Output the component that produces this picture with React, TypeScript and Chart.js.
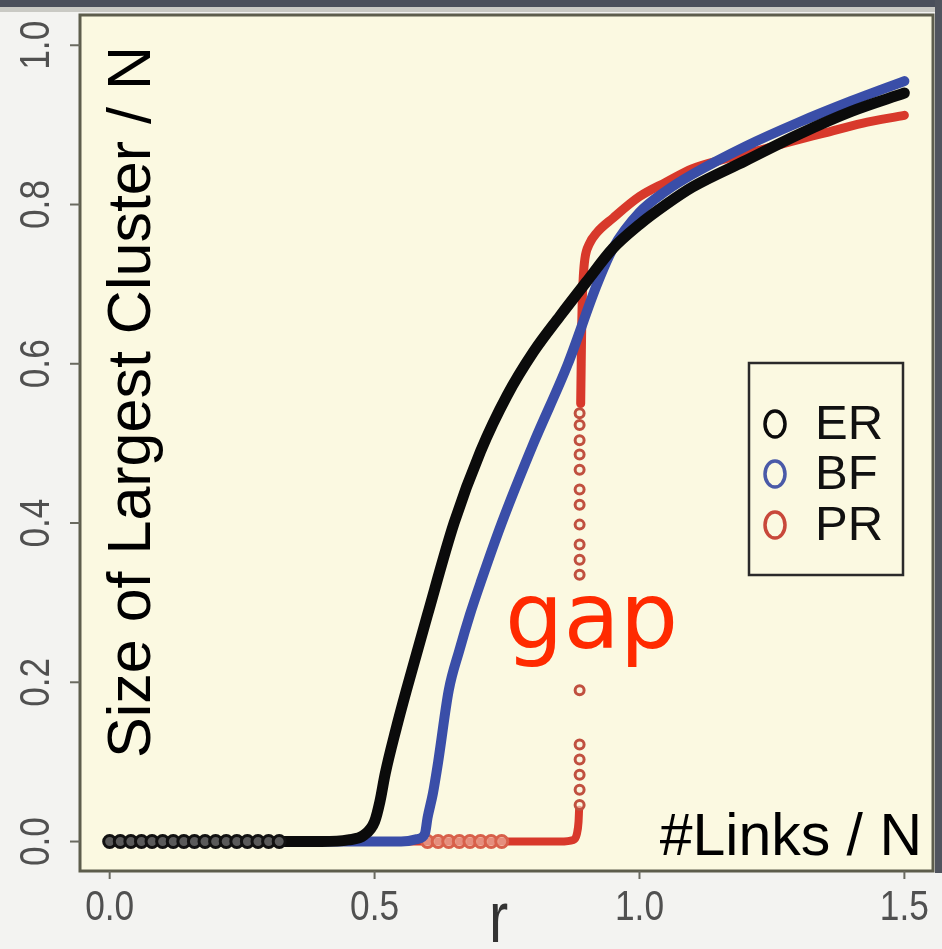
import React, { useEffect, useRef } from "react";
import { Chart, registerables } from "chart.js";
Chart.register(...registerables);

// ---- data ----
const xTicks = [0, 0.5, 1.0, 1.5];
const xTickLabels = ["0.0", "0.5", "1.0", "1.5"];
const yTicks = [0, 0.2, 0.4, 0.6, 0.8, 1.0];
const yTickLabels = ["0.0", "0.2", "0.4", "0.6", "0.8", "1.0"];
const seriesNames = ["ER", "BF", "PR"];

// ER (black)
const erSparseX = [0.0, 0.02, 0.04, 0.06, 0.08, 0.1, 0.12, 0.14, 0.16, 0.18, 0.2, 0.22, 0.24, 0.26, 0.28, 0.3, 0.32];
const erSparseY = [0, 0, 0, 0, 0, 0, 0, 0, 0, 0, 0, 0, 0, 0, 0, 0, 0];
const erX = [0.33, 0.4, 0.45, 0.48, 0.5, 0.51, 0.52, 0.54, 0.56, 0.6, 0.65, 0.7, 0.75, 0.8, 0.85, 0.9, 0.95, 1.0, 1.05, 1.1, 1.2, 1.3, 1.4, 1.5];
const erY = [0, 0, 0.002, 0.008, 0.025, 0.05, 0.085, 0.14, 0.19, 0.285, 0.4, 0.49, 0.56, 0.615, 0.66, 0.703, 0.745, 0.775, 0.8, 0.822, 0.855, 0.888, 0.917, 0.94];

// BF (blue)
const bfX = [0.33, 0.5, 0.55, 0.58, 0.595, 0.6, 0.61, 0.62, 0.64, 0.66, 0.68, 0.7, 0.74, 0.8, 0.865, 0.92, 0.95, 1.0, 1.05, 1.1, 1.2, 1.3, 1.4, 1.5];
const bfY = [0, 0, 0, 0.003, 0.01, 0.03, 0.06, 0.1, 0.19, 0.24, 0.285, 0.325, 0.4, 0.5, 0.6, 0.7, 0.745, 0.79, 0.817, 0.838, 0.873, 0.903, 0.93, 0.955];

// PR (red)
const prSparseX = [0.6, 0.62, 0.64, 0.66, 0.68, 0.7, 0.72, 0.74];
const prSparseY = [0, 0, 0, 0, 0, 0, 0, 0];
const prLowX = [0.33, 0.75, 0.8, 0.85, 0.875, 0.882, 0.885, 0.886];
const prLowY = [0, 0, 0, 0, 0.002, 0.01, 0.025, 0.04];
const prGapX = [0.887, 0.887, 0.887, 0.887, 0.887, 0.887, 0.887, 0.887, 0.887, 0.887, 0.887, 0.887, 0.887, 0.887, 0.887, 0.887, 0.887];
const prGapY = [0.046, 0.065, 0.084, 0.103, 0.122, 0.19, 0.335, 0.354, 0.373, 0.398, 0.423, 0.442, 0.467, 0.486, 0.504, 0.523, 0.538];
const prHighX = [0.889, 0.89, 0.891, 0.892, 0.894, 0.897, 0.905, 0.92, 0.95, 1.0, 1.05, 1.1, 1.16, 1.22, 1.28, 1.35, 1.42, 1.5];
const prHighY = [0.55, 0.6, 0.65, 0.68, 0.71, 0.732, 0.75, 0.765, 0.783, 0.81, 0.828, 0.845, 0.857, 0.867, 0.878, 0.89, 0.902, 0.912];

const BLACK = "#0b0b0b";
const BLUE = "#3a4ea8";
const RED = "#d8392b";

const pts = (xs: number[], ys: number[]) => xs.map((x, i) => ({ x, y: ys[i] }));

const NARROW = 0.84;

const decor = {
  id: "decor",
  beforeDraw(chart: any) {
    const { ctx, chartArea: a, width, height } = chart;
    ctx.save();
    ctx.fillStyle = "#f3f3f1";
    ctx.fillRect(0, 0, width, height);
    ctx.fillStyle = "#4a4f5b";
    ctx.fillRect(0, 0, width, 7);
    ctx.fillStyle = "#c9c9c4";
    ctx.fillRect(0, 7, width, 5);
    ctx.fillStyle = "#50545e";
    ctx.fillRect(a.right + 2, 0, width - a.right - 2, a.bottom + 2);
    ctx.fillStyle = "#fbf9e1";
    ctx.fillRect(a.left, a.top, a.right - a.left, a.bottom - a.top);
    ctx.restore();
  },
  afterDraw(chart: any) {
    const { ctx, chartArea: a } = chart;
    const xs = chart.scales.x;
    const ys = chart.scales.y;
    ctx.save();
    // box
    ctx.strokeStyle = "#5d5d4c";
    ctx.lineWidth = 3;
    ctx.strokeRect(a.left, a.top, a.right - a.left, a.bottom - a.top);
    // ticks
    ctx.strokeStyle = "#6a6a60";
    ctx.lineWidth = 2;
    ctx.fillStyle = "#505050";
    ctx.font = '42px "Liberation Sans", sans-serif';
    yTicks.forEach((v, i) => {
      const y = ys.getPixelForValue(v);
      ctx.beginPath();
      ctx.moveTo(a.left - 10, y);
      ctx.lineTo(a.left, y);
      ctx.stroke();
      ctx.save();
      ctx.translate(49, y);
      ctx.rotate(-Math.PI / 2);
      ctx.scale(NARROW, 1);
      ctx.textAlign = "center";
      ctx.textBaseline = "alphabetic";
      ctx.fillText(yTickLabels[i], 0, 0);
      ctx.restore();
    });
    xTicks.forEach((v, i) => {
      const x = xs.getPixelForValue(v);
      ctx.beginPath();
      ctx.moveTo(x, a.bottom);
      ctx.lineTo(x, a.bottom + 8);
      ctx.stroke();
      ctx.save();
      ctx.translate(x, 920);
      ctx.scale(NARROW, 1);
      ctx.textAlign = "center";
      ctx.textBaseline = "alphabetic";
      ctx.fillText(xTickLabels[i], 0, 0);
      ctx.restore();
    });
    // x title "r"
    ctx.fillStyle = "#333";
    ctx.font = '72px "Liberation Sans", sans-serif';
    ctx.save();
    ctx.translate((a.left + a.right) / 2 - 8, 942);
    ctx.scale(0.8, 1);
    ctx.textAlign = "center";
    ctx.fillText("r", 0, 0);
    ctx.restore();
    // y title inside the plot
    ctx.fillStyle = "#000";
    ctx.font = '61px "Liberation Sans", sans-serif';
    ctx.save();
    ctx.translate(150, 402);
    ctx.rotate(-Math.PI / 2);
    ctx.textAlign = "center";
    ctx.fillText("Size of Largest Cluster / N", 0, 0);
    ctx.restore();
    // bottom-right label
    ctx.font = '59px "Liberation Sans", sans-serif';
    ctx.textAlign = "right";
    ctx.fillText("#Links / N", 922, 855);
    // gap annotation
    ctx.fillStyle = "#ff2a00";
    ctx.font = '92px "DejaVu Sans", sans-serif';
    ctx.textAlign = "left";
    ctx.fillText("gap", 505, 648);
    // legend
    const lx = 749, ly = 363, lw = 154, lh = 212;
    ctx.strokeStyle = "#2a2a2a";
    ctx.lineWidth = 2.5;
    ctx.strokeRect(lx, ly, lw, lh);
    const colors = [BLACK, "#4a5aa8", "#c8483a"];
    const rows = [422, 472, 523];
    ctx.font = '49px "Liberation Sans", sans-serif';
    ctx.textBaseline = "middle";
    seriesNames.forEach((n, i) => {
      ctx.strokeStyle = colors[i];
      ctx.lineWidth = 3.5;
      ctx.beginPath();
      ctx.ellipse(775, rows[i] + 2, 10, 13, 0, 0, Math.PI * 2);
      ctx.stroke();
      ctx.fillStyle = "#111";
      ctx.fillText(n, 815, rows[i] + 3);
    });
    ctx.restore();
  },
};

export default function App() {
  const ref = useRef<HTMLCanvasElement | null>(null);
  useEffect(() => {
    document.body.style.margin = "0";
    const canvas = ref.current!;
    const line = (label: string, data: any[], color: string, w: number, order: number) => ({
      label,
      data,
      borderColor: color,
      backgroundColor: color,
      borderWidth: w,
      pointRadius: 0,
      showLine: true,
      cubicInterpolationMode: "monotone",
      borderCapStyle: "round",
      borderJoinStyle: "round",
      order,
    });
    const dots = (label: string, data: any[], color: string, fill: string, r: number, order: number) => ({
      label,
      data,
      borderColor: color,
      backgroundColor: fill,
      borderWidth: 3,
      pointRadius: r,
      showLine: false,
      order,
    });
    const chart = new Chart(canvas, {
      type: "scatter",
      data: {
        datasets: [
          line("PR", pts(prLowX, prLowY), RED, 8, 6),
          line("PR", pts(prHighX, prHighY), RED, 9, 6),
          dots("PR", pts(prGapX, prGapY), "#c0503f", "rgba(250,240,220,0.6)", 4.5, 5),
          dots("PR", pts(prSparseX, prSparseY), "#d8604a", "rgba(240,200,180,0.6)", 6, 5),
          line("BF", pts(bfX, bfY), BLUE, 10, 3),
          line("ER", pts(erX, erY), BLACK, 11, 1),
          dots("ER", pts(erSparseX, erSparseY), "#111", "#5a5a5a", 6, 0),
        ] as any,
      },
      options: {
        animation: false,
        responsive: false,
        maintainAspectRatio: false,
        layout: { padding: { left: 80, right: 5, top: 15, bottom: 78 } },
        plugins: { legend: { display: false }, tooltip: { enabled: false } },
        scales: {
          x: { type: "linear", min: -0.056, max: 1.554, display: false },
          y: { type: "linear", min: -0.037, max: 1.038, display: false },
        },
      } as any,
      plugins: [decor],
    });
    return () => chart.destroy();
  }, []);
  return <canvas ref={ref} width={942} height={949} style={{ display: "block" }} />;
}
